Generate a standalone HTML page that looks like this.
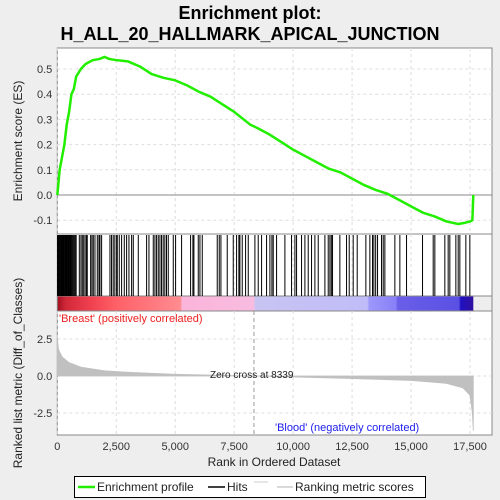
<!DOCTYPE html>
<html><head><meta charset="utf-8"><style>
body{margin:0;background:#eeeeee;font-family:"Liberation Sans",sans-serif}
svg{display:block}
</style></head><body>
<svg id="c" width="500" height="500" xmlns="http://www.w3.org/2000/svg">
<rect x="0" y="0" width="500" height="500" fill="#eeeeee"/>
<text x="250" y="19" text-anchor="middle" font-size="18" font-weight="bold" fill="#000">Enrichment plot:</text>
<text x="250" y="40" text-anchor="middle" font-size="18" font-weight="bold" fill="#000">H_ALL_20_HALLMARK_APICAL_JUNCTION</text>
<g id="g"></g>
</svg>
<script>
const esRanks=[0,100,200,300,400,500,600,700,800,1000,1200,1500,1800,2000,2200,2500,3000,3500,4000,4500,5000,5500,6000,6500,7000,7500,8170,8500,9000,9500,10000,10500,11000,11500,12000,12500,13000,13500,14000,14500,15000,15500,16000,16500,17000,17300,17500,17600,17640];
const esValues=[0,0.1,0.15,0.2,0.28,0.33,0.4,0.42,0.47,0.5,0.52,0.535,0.54,0.548,0.54,0.535,0.53,0.51,0.48,0.465,0.455,0.435,0.41,0.39,0.36,0.33,0.28,0.265,0.24,0.21,0.18,0.155,0.13,0.105,0.09,0.065,0.04,0.02,0.005,-0.02,-0.045,-0.07,-0.085,-0.105,-0.115,-0.11,-0.105,-0.1,0];
const hitRanks=[10,40,70,100,130,160,190,220,250,280,310,340,370,400,430,460,490,520,560,600,640,680,720,760,800,933,1003,1060,1120,1180,1240,1270,1413,1470,1526,1597,1696,1766,1809,1879,2233,2300,2370,2440,2515,2543,2628,2727,2840,2939,3038,3151,3222,3434,3787,3886,4069,4140,4210,4281,4352,4420,4490,4560,4630,4705,4917,5016,5270,5652,5750,5793,5977,6048,6147,6782,6867,6938,7206,7461,7602,7700,7743,7842,7984,8097,8379,8520,8662,8874,9015,9100,9156,9298,9651,9933,10075,10146,10357,10499,10640,10781,10923,11064,11347,11488,11560,11620,11671,11982,12265,12378,12547,12717,13084,13254,13367,13424,13500,13580,13749,13820,13890,14314,14526,14809,15487,15939,16009,16433,16574,16645,16900,16999,17070,17324,17493];
const metricRanks=[0,50,200,500,1000,2000,3000,5000,8339,12000,15000,16500,17200,17500,17600,17640];
const metricValues=[2.6,1.8,1.3,0.9,0.6,0.35,0.25,0.12,0,-0.15,-0.3,-0.5,-0.8,-1.3,-2.5,-3.7];
const xTicks=[0,2500,5000,7500,10000,12500,15000,17500];
const xTickLabels=["0","2,500","5,000","7,500","10,000","12,500","15,000","17,500"];
const esTicks=[-0.1,0,0.1,0.2,0.3,0.4,0.5];
const esTickLabels=["-0.1","0.0","0.1","0.2","0.3","0.4","0.5"];
const metricTicks=[-2.5,0,2.5];
const metricTickLabels=["-2.5","0.0","2.5"];

const NS="http://www.w3.org/2000/svg";
const g=document.getElementById('g');
const L=57.3,R=492,W=17500/412.7;
const X=r=>L+r/W;
const Yes=v=>195-v*252;
const Ym=v=>376-v*14.8;
function el(t,a,p){const e=document.createElementNS(NS,t);for(const k in a)e.setAttribute(k,a[k]);(p||g).appendChild(e);return e;}

let e;
e=el('rect',{x:L,y:48,width:R-L,height:186,fill:'#fff',stroke:'#888'});


e=el('rect',{x:L,y:234,width:R-L,height:62,fill:'#fff',stroke:'#888'});


e=el('rect',{x:L,y:311,width:R-L,height:124,fill:'#fff',stroke:'#888'});



const defs=el('defs',{});
const lg=el('linearGradient',{id:'cb',x1:'0',x2:'1',y1:'0',y2:'0'},defs);
[[0,'#a01020'],[0.02,'#d02838'],[0.08,'#f04050'],[0.14,'#ff6068'],[0.296,'#ff8c90'],[0.3,'#fbb4da'],[0.472,'#f8bce0'],[0.476,'#c8c4f2'],[0.745,'#c0bcf8'],[0.75,'#9c98fa'],[0.814,'#8880f8'],[0.818,'#6a5ee8'],[0.965,'#5a50e4'],[0.97,'#2010c0'],[1,'#3010a0']].forEach(s=>el('stop',{offset:s[0],'stop-color':s[1]},lg));
e=el('rect',{x:L,y:296,width:X(17640)-L,height:15,fill:'url(#cb)'});


el('rect',{x:L,y:296,width:R-L,height:15,fill:'none',stroke:'#888'});

xTicks.forEach(t=>{
 [[48,234],[234,296],[311,435]].forEach(p=>{
  const ln=el('line',{x1:X(t),x2:X(t),y1:p[0],y2:p[1],stroke:'#ddd','stroke-dasharray':'3,3'});
  
  
 });
});
esTicks.forEach((t,i)=>{
 const ln=el('line',{x1:L,x2:R,y1:Yes(t),y2:Yes(t),stroke:t===0?'#888':'#ddd','stroke-dasharray':t===0?'':'3,3'});
 
 
 const tx=el('text',{x:L-5,y:Yes(t)+4,'text-anchor':'end','font-size':11,fill:'#333'});
 tx.textContent=esTickLabels[i];
 
 
});
metricTicks.forEach((t,i)=>{
 const ln=el('line',{x1:L,x2:R,y1:Ym(t),y2:Ym(t),stroke:'#ddd','stroke-dasharray':'3,3'});
 
 
 const tx=el('text',{x:L-5,y:Ym(t)+4,'text-anchor':'end','font-size':11,fill:'#333'});
 tx.textContent=metricTickLabels[i];
 
 
});
xTicks.forEach((t,i)=>{
 const tx=el('text',{x:X(t),y:450,'text-anchor':'middle','font-size':11,fill:'#333'});
 tx.textContent=xTickLabels[i];
 
 
});

hitRanks.forEach(r=>{
 const ln=el('line',{x1:X(r),x2:X(r),y1:235,y2:296,stroke:'#000','stroke-width':1});
 
 
});

let d='M'+X(0)+','+Ym(0);
metricRanks.forEach((r,i)=>{d+=' L'+X(r)+','+Ym(metricValues[i]);});
d+=' L'+X(metricRanks[metricRanks.length-1])+','+Ym(0)+' Z';
e=el('path',{d:d,fill:'#c0c0c0',stroke:'#c0c0c0','stroke-width':0.8});



e=el('line',{x1:X(8339),x2:X(8339),y1:311,y2:435,stroke:'#999','stroke-dasharray':'4,3'});



let pts=esRanks.map((r,i)=>X(r)+','+Yes(esValues[i])).join(' ');
e=el('polyline',{points:pts,fill:'none',stroke:'#22ee00','stroke-width':2.5,'stroke-linejoin':'round'});



function txt(s,a,name){const t=el('text',a);t.textContent=s;return t;}
txt("'Breast' (positively correlated)",{x:59,y:322,'font-size':11,fill:'#ee2020'},'positive-class-label');
txt("'Blood' (negatively correlated)",{x:275,y:431,'font-size':11,fill:'#2020ee'},'negative-class-label');
txt("Zero cross at 8339",{x:210,y:378,'font-size':10,fill:'#222'},'zero-cross-label');
txt("Rank in Ordered Dataset",{x:274,y:466,'text-anchor':'middle','font-size':12,fill:'#222'},'x-axis-title');
txt("Enrichment score (ES)",{x:0,y:0,'text-anchor':'middle','font-size':12,fill:'#222',transform:'translate(22,141) rotate(-90)'},'es-axis-title');
txt("Ranked list metric (Diff_of_Classes)",{x:0,y:0,'text-anchor':'middle','font-size':12,fill:'#222',transform:'translate(22,373) rotate(-90)'},'metric-axis-title');

const lgG=el('g',{});


el('rect',{x:74.5,y:476.5,width:351,height:21,fill:'#fff',stroke:'#000'},lgG);
el('line',{x1:78,x2:95,y1:487,y2:487,stroke:'#22ee00','stroke-width':2.5},lgG);
txt("Enrichment profile",{x:97,y:491,'font-size':12,fill:'#222'},'legend-entry-enrichment');
el('line',{x1:208,x2:225,y1:487,y2:487,stroke:'#000','stroke-width':1.5},lgG);
txt("Hits",{x:227,y:491,'font-size':12,fill:'#222'},'legend-entry-hits');
el('line',{x1:254,x2:268,y1:482,y2:482,stroke:'#ccc'},lgG);
el('line',{x1:277,x2:293,y1:487,y2:487,stroke:'#ccc','stroke-width':1.5},lgG);
txt("Ranking metric scores",{x:295,y:491,'font-size':12,fill:'#222'},'legend-entry-metric');
</script>
</body></html>
